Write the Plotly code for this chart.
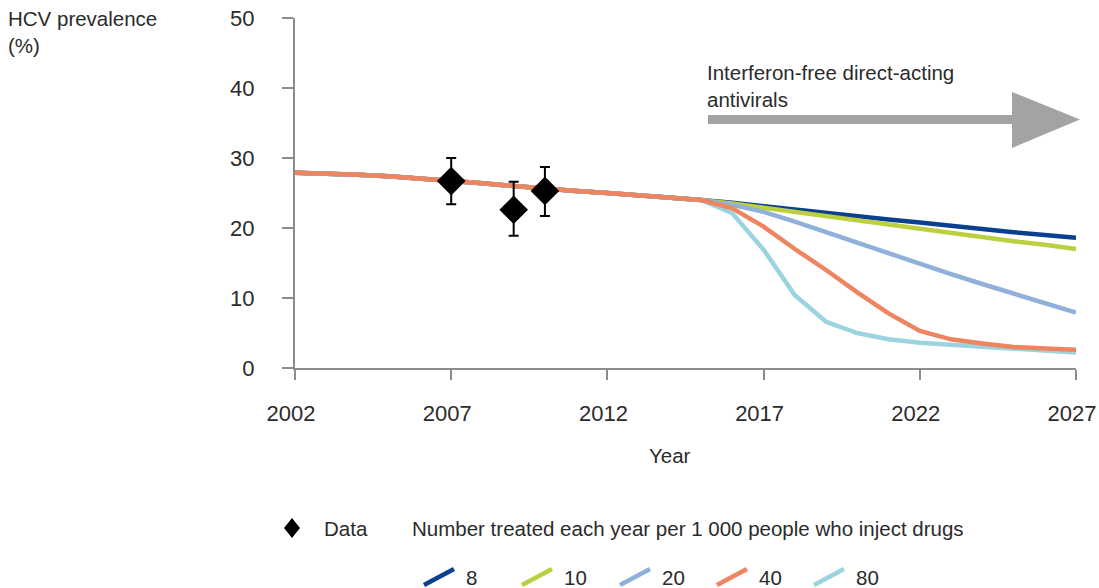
import plotly.graph_objects as go

# ---------------- data ----------------
years = list(range(2002, 2028))
common_2002_2015 = [27.9, 27.8, 27.6, 27.4, 27.1, 26.8, 26.4, 26.0, 25.6, 25.3,
                    25.0, 24.7, 24.4, 24.0]
tail_8 = [23.6, 23.1, 22.6, 22.1, 21.7, 21.2, 20.8, 20.3, 19.9, 19.4, 19.0, 18.6]
tail_10 = [23.5, 22.9, 22.3, 21.7, 21.1, 20.4, 19.8, 19.3, 18.7, 18.1, 17.6, 17.0]
tail_20 = [23.3, 22.3, 20.9, 19.4, 17.9, 16.3, 14.8, 13.4, 12.0, 10.6, 9.2, 7.9]
tail_40 = [22.8, 20.2, 17.0, 14.0, 10.8, 7.8, 5.3, 4.1, 3.5, 3.0, 2.8, 2.6]
tail_80 = [22.1, 16.9, 10.4, 6.6, 5.0, 4.1, 3.6, 3.3, 3.0, 2.7, 2.5, 2.2]

data_years = [2007, 2009, 2010]
data_values = [26.7, 22.6, 25.3]
data_err_plus = [3.3, 4.0, 3.4]
data_err_minus = [3.3, 3.7, 3.6]

scenario_labels = ["8", "10", "20", "40", "80"]
scenario_tails = [tail_8, tail_10, tail_20, tail_40, tail_80]
scenario_colors = ["#0b3f8f", "#bccf3e", "#8fb0d9", "#ef8461", "#9bd4e0"]

x_ticks = [2002, 2007, 2012, 2017, 2022, 2027]
y_ticks = [0, 10, 20, 30, 40, 50]

# ---------------- layout geometry (pixels) ----------------
W, H = 1099, 588
L, R, T, B = 295, 1076, 18, 368
FONT = "Liberation Sans, Arial, sans-serif"
TXT = "#2b2b2b"


def px(x):
    return (x - L) / (R - L)


def py(y):
    return (B - y) / (B - T)


fig = go.Figure()

draw_order = [4, 0, 1, 2, 3]
for i in draw_order:
    fig.add_trace(go.Scatter(
        x=years, y=common_2002_2015 + scenario_tails[i], mode="lines",
        line=dict(color=scenario_colors[i], width=4.5), name=scenario_labels[i],
        showlegend=False, hoverinfo="skip"))

fig.add_trace(go.Scatter(
    x=data_years, y=data_values, mode="markers",
    marker=dict(symbol="diamond", size=22, color="black"),
    error_y=dict(type="data", array=data_err_plus, arrayminus=data_err_minus,
                 color="black", thickness=2, width=5),
    showlegend=False, name="Data"))

shapes = []
# arrow
ay = 119.5
shaft_h = 4.5
head_x0, tip_x = 1012, 1080
path = (f"M {px(708)},{py(ay - shaft_h)} L {px(head_x0)},{py(ay - shaft_h)} "
        f"L {px(head_x0)},{py(92)} L {px(tip_x)},{py(ay)} L {px(head_x0)},{py(148)} "
        f"L {px(head_x0)},{py(ay + shaft_h)} L {px(708)},{py(ay + shaft_h)} Z")
shapes.append(dict(type="path", xref="paper", yref="paper", path=path,
                   fillcolor="#a3a3a3", line=dict(width=0)))

# legend: data diamond
cx, cy = 292, 528
dpath = (f"M {px(cx - 8)},{py(cy)} L {px(cx)},{py(cy - 10)} L {px(cx + 8)},{py(cy)} "
         f"L {px(cx)},{py(cy + 10)} Z")
shapes.append(dict(type="path", xref="paper", yref="paper", path=dpath,
                   fillcolor="black", line=dict(width=0)))

annotations = []
annotations.append(dict(x=px(322), y=py(528), xref="paper", yref="paper", text="Data",
                        showarrow=False, xanchor="left", yanchor="middle"))
annotations.append(dict(x=px(410), y=py(528), xref="paper", yref="paper",
                        text="Number treated each year per 1 000 people who inject drugs",
                        showarrow=False, xanchor="left", yanchor="middle"))

glyph_x = [424, 522, 620, 717, 814]
for gx, lab, col in zip(glyph_x, scenario_labels, scenario_colors):
    shapes.append(dict(type="line", xref="paper", yref="paper",
                       x0=px(gx), y0=py(585), x1=px(gx + 30), y1=py(569),
                       line=dict(color=col, width=4.5)))
    annotations.append(dict(x=px(gx + 40), y=py(577), xref="paper", yref="paper",
                            text=lab, showarrow=False, xanchor="left", yanchor="middle"))

annotations.append(dict(x=px(705), y=py(86), xref="paper", yref="paper",
                        text="Interferon-free direct-acting<br>antivirals",
                        showarrow=False, xanchor="left", yanchor="middle", align="left"))
annotations.append(dict(x=px(6), y=py(32), xref="paper", yref="paper",
                        text="HCV prevalence<br>(%)", showarrow=False,
                        xanchor="left", yanchor="middle", align="left"))
annotations.append(dict(x=px(670), y=py(455), xref="paper", yref="paper",
                        text="Year", showarrow=False, xanchor="center", yanchor="middle"))

fig.update_layout(
    width=W, height=H,
    margin=dict(l=L, r=W - R, t=T, b=H - B, pad=0, autoexpand=False),
    plot_bgcolor="white", paper_bgcolor="white",
    font=dict(family=FONT, size=20.5, color=TXT),
    shapes=shapes, annotations=annotations,
    showlegend=False,
    xaxis=dict(range=[2002, 2027], tickvals=x_ticks, ticktext=[str(v) for v in x_ticks],
               showgrid=False, zeroline=False, showline=True, linecolor="#8c8c8c",
               linewidth=2, ticks="outside", ticklen=10, tickwidth=2, tickcolor="#8c8c8c",
               ticklabelstandoff=15, ticklabelshift=-4, automargin=False,
               tickfont=dict(size=22)),
    yaxis=dict(range=[0, 50], tickvals=y_ticks, showgrid=False, zeroline=False,
               showline=True, linecolor="#8c8c8c", linewidth=2, ticks="outside",
               ticklen=11, tickwidth=2, tickcolor="#8c8c8c", ticklabelstandoff=23,
               automargin=False, tickfont=dict(size=22)),
)

fig.write_html(
    "out.html",
    config={"displayModeBar": False},
    post_script="document.body.style.margin='0';document.body.style.padding='0';"
                "document.body.style.overflow='hidden';",
)
